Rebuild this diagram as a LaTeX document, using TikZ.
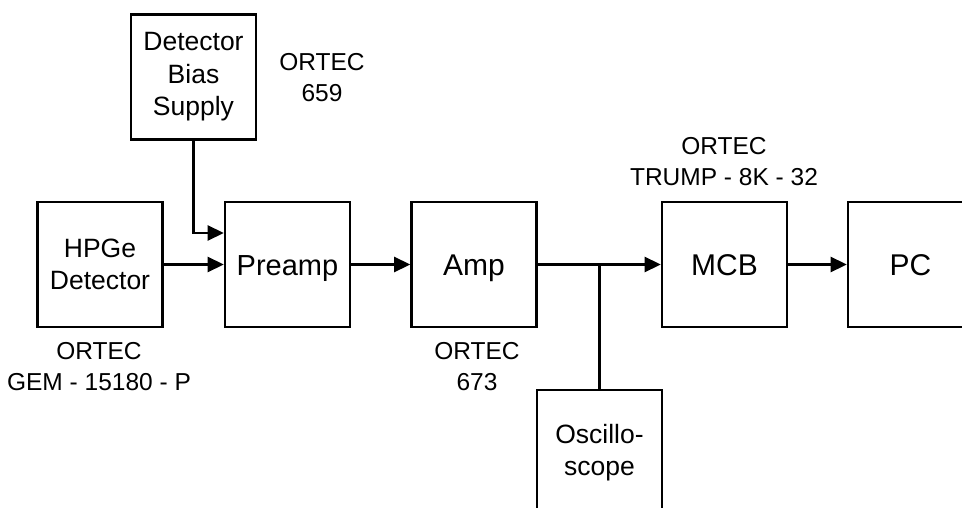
\documentclass[tikz,border=0pt]{standalone}
\usepackage{fontspec}
\setmainfont{Liberation Sans}
\usetikzlibrary{arrows.meta}
\tikzset{
  blk/.style={draw, line width=2.6pt, minimum width=125pt, minimum height=125pt, inner sep=0pt, align=center},
  bigtxt/.style={font=\fontsize{30}{36}\selectfont, text height=21.5pt, text depth=0pt},
  smalltxt/.style={font=\fontsize{26.5}{32.5}\selectfont},
  lbl/.style={align=center, inner sep=0pt, font=\fontsize{24.5}{31}\selectfont},
  wire/.style={line width=2.6pt},
  arr/.style={wire, -{Triangle[length=16pt,width=15pt]}}
}
\begin{document}
\begin{tikzpicture}[x=1pt,y=-1pt]
\useasboundingbox (0,0) rectangle (962,508);
\clip (0,0) rectangle (962,508);
\fill[white] (0,0) rectangle (962,508);
\node[blk, smalltxt] (bias) at (193.5,77) {Detector\\Bias\\Supply};
\node[blk, smalltxt] (hpge) at (100,264.5) {HPGe\\Detector};
\node[blk, bigtxt, font=\fontsize{29}{35}\selectfont] (preamp) at (287.5,264.5) {Preamp};
\node[blk, bigtxt] (amp) at (474,264.5) {Amp};
\node[blk, bigtxt] (mcb) at (724.5,264.5) {MCB};
\node[blk, bigtxt] (pc) at (910.5,264.5) {PC};
\node[blk, smalltxt] (osc) at (599.5,452.5) {Oscillo-\\scope};
\node[lbl] (l659) at (322,77.5) {ORTEC\\659};
\node[lbl] (lgem) at (99,367) {ORTEC\\GEM - 15180 - P};
\node[lbl] (l673) at (477,367) {ORTEC\\673};
\node[lbl] (ltrump) at (724,161.5) {ORTEC\\TRUMP - 8K - 32};
\coordinate (j) at (599.5,264.5);
\draw[arr] (bias.south) |- ([yshift=31.5pt]preamp.west);
\draw[arr] (hpge.east) -- (preamp.west);
\draw[arr] (preamp.east) -- (amp.west);
\draw[wire] (amp.east) -- (j);
\draw[arr] (j) -- (mcb.west);
\draw[wire] (j) -- (osc.north);
\draw[arr] (mcb.east) -- (pc.west);
\end{tikzpicture}
\end{document}
